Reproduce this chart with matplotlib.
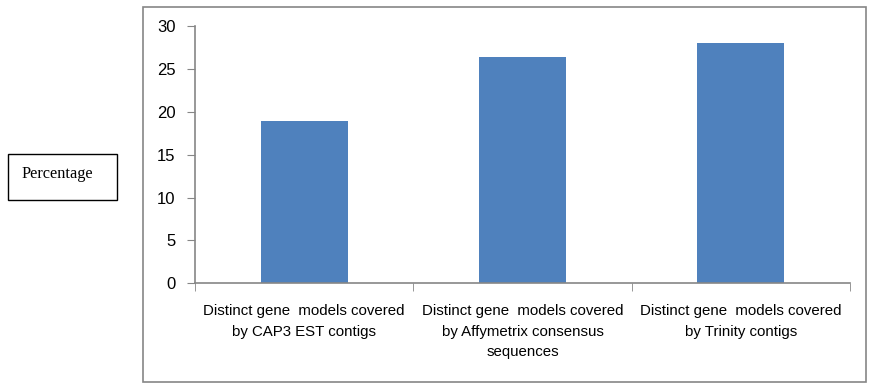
import matplotlib
matplotlib.use('Agg')
import matplotlib.pyplot as plt
from matplotlib.patches import Rectangle

categories = ["Distinct gene  models covered\nby CAP3 EST contigs",
              "Distinct gene  models covered\nby Affymetrix consensus\nsequences",
              "Distinct gene  models covered\nby Trinity contigs"]
values = [18.9, 26.4, 28.0]
yticks = [0, 5, 10, 15, 20, 25, 30]

plt.rcParams['font.family'] = ['Liberation Sans', 'DejaVu Sans']
gray = '#868686'

fig = plt.figure(figsize=(8.7, 3.86), dpi=100)
fig.patches.append(Rectangle((143.5/870, 1-382/386), (866-143.5)/870, (382-6.5)/386,
                             transform=fig.transFigure, fill=False, edgecolor=gray, lw=1.2))

ax = fig.add_axes([195/870, 1-283.3/386, (850-195)/870, (283.3-26)/386])
x = list(range(len(values)))
ax.bar(x, values, width=0.4, color='#4F81BD')
ax.set_xlim(-0.5, 2.5)
ax.set_ylim(0, 30)
ax.set_yticks(yticks)
ax.set_xticks(x)
ax.set_xticklabels(categories, fontsize=10.8, linespacing=1.6, va='top')
ax.set_xticks([-0.5, 0.5, 1.5, 2.5], minor=True)
ax.tick_params(axis='x', which='major', length=0, pad=15)
ax.tick_params(axis='x', which='minor', length=6, color=gray, direction='out')
ax.tick_params(axis='y', length=6, color=gray, direction='out', labelsize=12, pad=8)
for s in ['top', 'right']:
    ax.spines[s].set_visible(False)
for s in ['left', 'bottom']:
    ax.spines[s].set_color(gray)
    ax.spines[s].set_linewidth(1.2)

fig.patches.append(Rectangle((8/870, 1-200/386), 109/870, 46/386,
                             transform=fig.transFigure, fill=False, edgecolor='black', lw=1))
fig.text(21/870, 1-174/386, "Percentage", family=['Liberation Serif', 'DejaVu Serif'],
         fontsize=11.7, va='center', ha='left')

fig.savefig('out.png', dpi=100)
